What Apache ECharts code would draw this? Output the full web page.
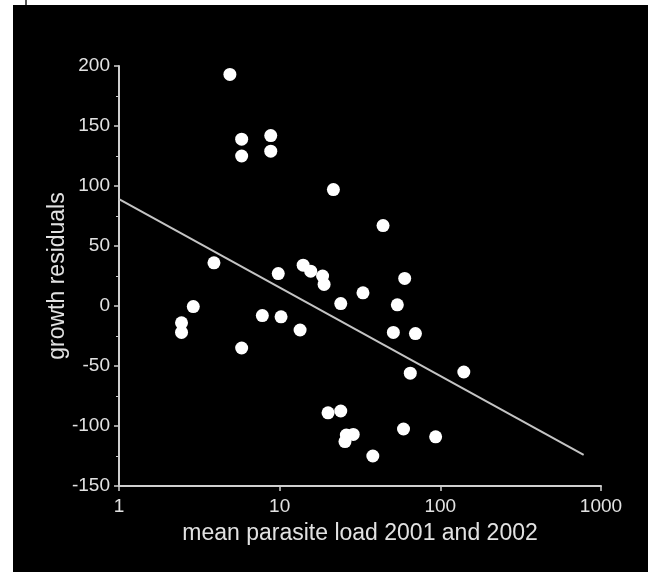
<!DOCTYPE html>
<html>
<head>
<meta charset="utf-8">
<script src="https://cdn.jsdelivr.net/npm/echarts@6/dist/echarts.min.js"></script>
<style>
  html, body { margin: 0; padding: 0; background: #ffffff; }
  #wrap { position: relative; width: 648px; height: 572px; overflow: hidden; background: #ffffff; }
  #chart { position: absolute; left: 13px; top: 5px; width: 635px; height: 567px; background: #000000; }
  #mark { position: absolute; left: 25px; top: 0px; width: 2px; height: 5px; background: #555555; }
</style>
</head>
<body>
<div id="wrap">
  <div id="mark"></div>
  <div id="chart"></div>
</div>
<script>
// Scatter data: mean parasite load (x, log scale) vs growth residuals (y)
const parasiteLoad = [4.9, 5.8, 8.8, 5.8, 8.8, 21.6, 44, 3.9, 9.8, 14.0, 15.6, 18.5, 18.9,
  2.9, 2.45, 2.45, 7.8, 10.2, 13.4, 5.8, 33, 24, 60, 54, 51, 70, 65, 140, 20, 24,
  26, 28.7, 25.5, 59, 93.5, 38];
const growthResiduals = [193, 139, 142, 125, 129, 97, 67, 36, 27, 34, 29, 25, 18,
  -0.5, -14, -22, -8, -9, -20, -35, 11, 2, 23, 1, -22, -23, -56, -55, -89, -87.5,
  -107.5, -107, -113, -102.5, -109, -125];

// Regression line endpoints
const lineX = [1, 780];
const lineY = [89, -124];

// Axis ticks
const xTicks = [1, 10, 100, 1000];
const yTicks = [-150, -100, -50, 0, 50, 100, 150, 200];

const xName = 'mean parasite load 2001 and 2002';
const yName = 'growth residuals';

const points = parasiteLoad.map((x, i) => [x, growthResiduals[i]]);
const linePts = lineX.map((x, i) => [x, lineY[i]]);

const chart = echarts.init(document.getElementById('chart'), null, { renderer: 'canvas' });
const txt = '#e2e2e2';
const axisCol = '#cfcfcf';
const font = '"Liberation Sans", Arial, sans-serif';

chart.setOption({
  backgroundColor: '#000000',
  animation: false,
  grid: { left: 106, top: 61, right: 47, bottom: 86, containLabel: false },
  xAxis: {
    type: 'log',
    logBase: 10,
    min: xTicks[0],
    max: xTicks[xTicks.length - 1],
    name: xName,
    nameLocation: 'middle',
    nameGap: 36,
    nameMoveOverlap: false,
    nameTextStyle: { color: txt, fontSize: 23, fontFamily: font },
    axisLine: { show: true, onZero: false, lineStyle: { color: axisCol, width: 2 } },
    axisTick: { show: true, length: 5, lineStyle: { color: axisCol, width: 1.5 } },
    axisLabel: { color: txt, fontSize: 19, fontFamily: font, margin: 11,
      formatter: v => String(Math.round(v)) },
    splitLine: { show: false }
  },
  yAxis: {
    type: 'value',
    min: yTicks[0],
    max: yTicks[yTicks.length - 1],
    interval: 50,
    name: yName,
    nameLocation: 'middle',
    nameGap: 50,
    nameMoveOverlap: false,
    nameTextStyle: { color: txt, fontSize: 23, fontFamily: font },
    axisLine: { show: true, lineStyle: { color: axisCol, width: 2 } },
    axisTick: { show: true, length: 5, lineStyle: { color: axisCol, width: 1.5 } },
    minorTick: { show: true, splitNumber: 2, length: 3, lineStyle: { color: axisCol, width: 1 } },
    axisLabel: { color: txt, fontSize: 19, fontFamily: font, margin: 9 },
    splitLine: { show: false }
  },
  series: [
    {
      type: 'line',
      data: linePts,
      symbol: 'none',
      lineStyle: { color: '#c4c4c4', width: 2 },
      z: 2
    },
    {
      type: 'scatter',
      data: points,
      symbol: 'circle',
      symbolSize: 13,
      itemStyle: { color: '#ffffff', opacity: 1 },
      z: 3
    }
  ]
});
</script>
</body>
</html>
